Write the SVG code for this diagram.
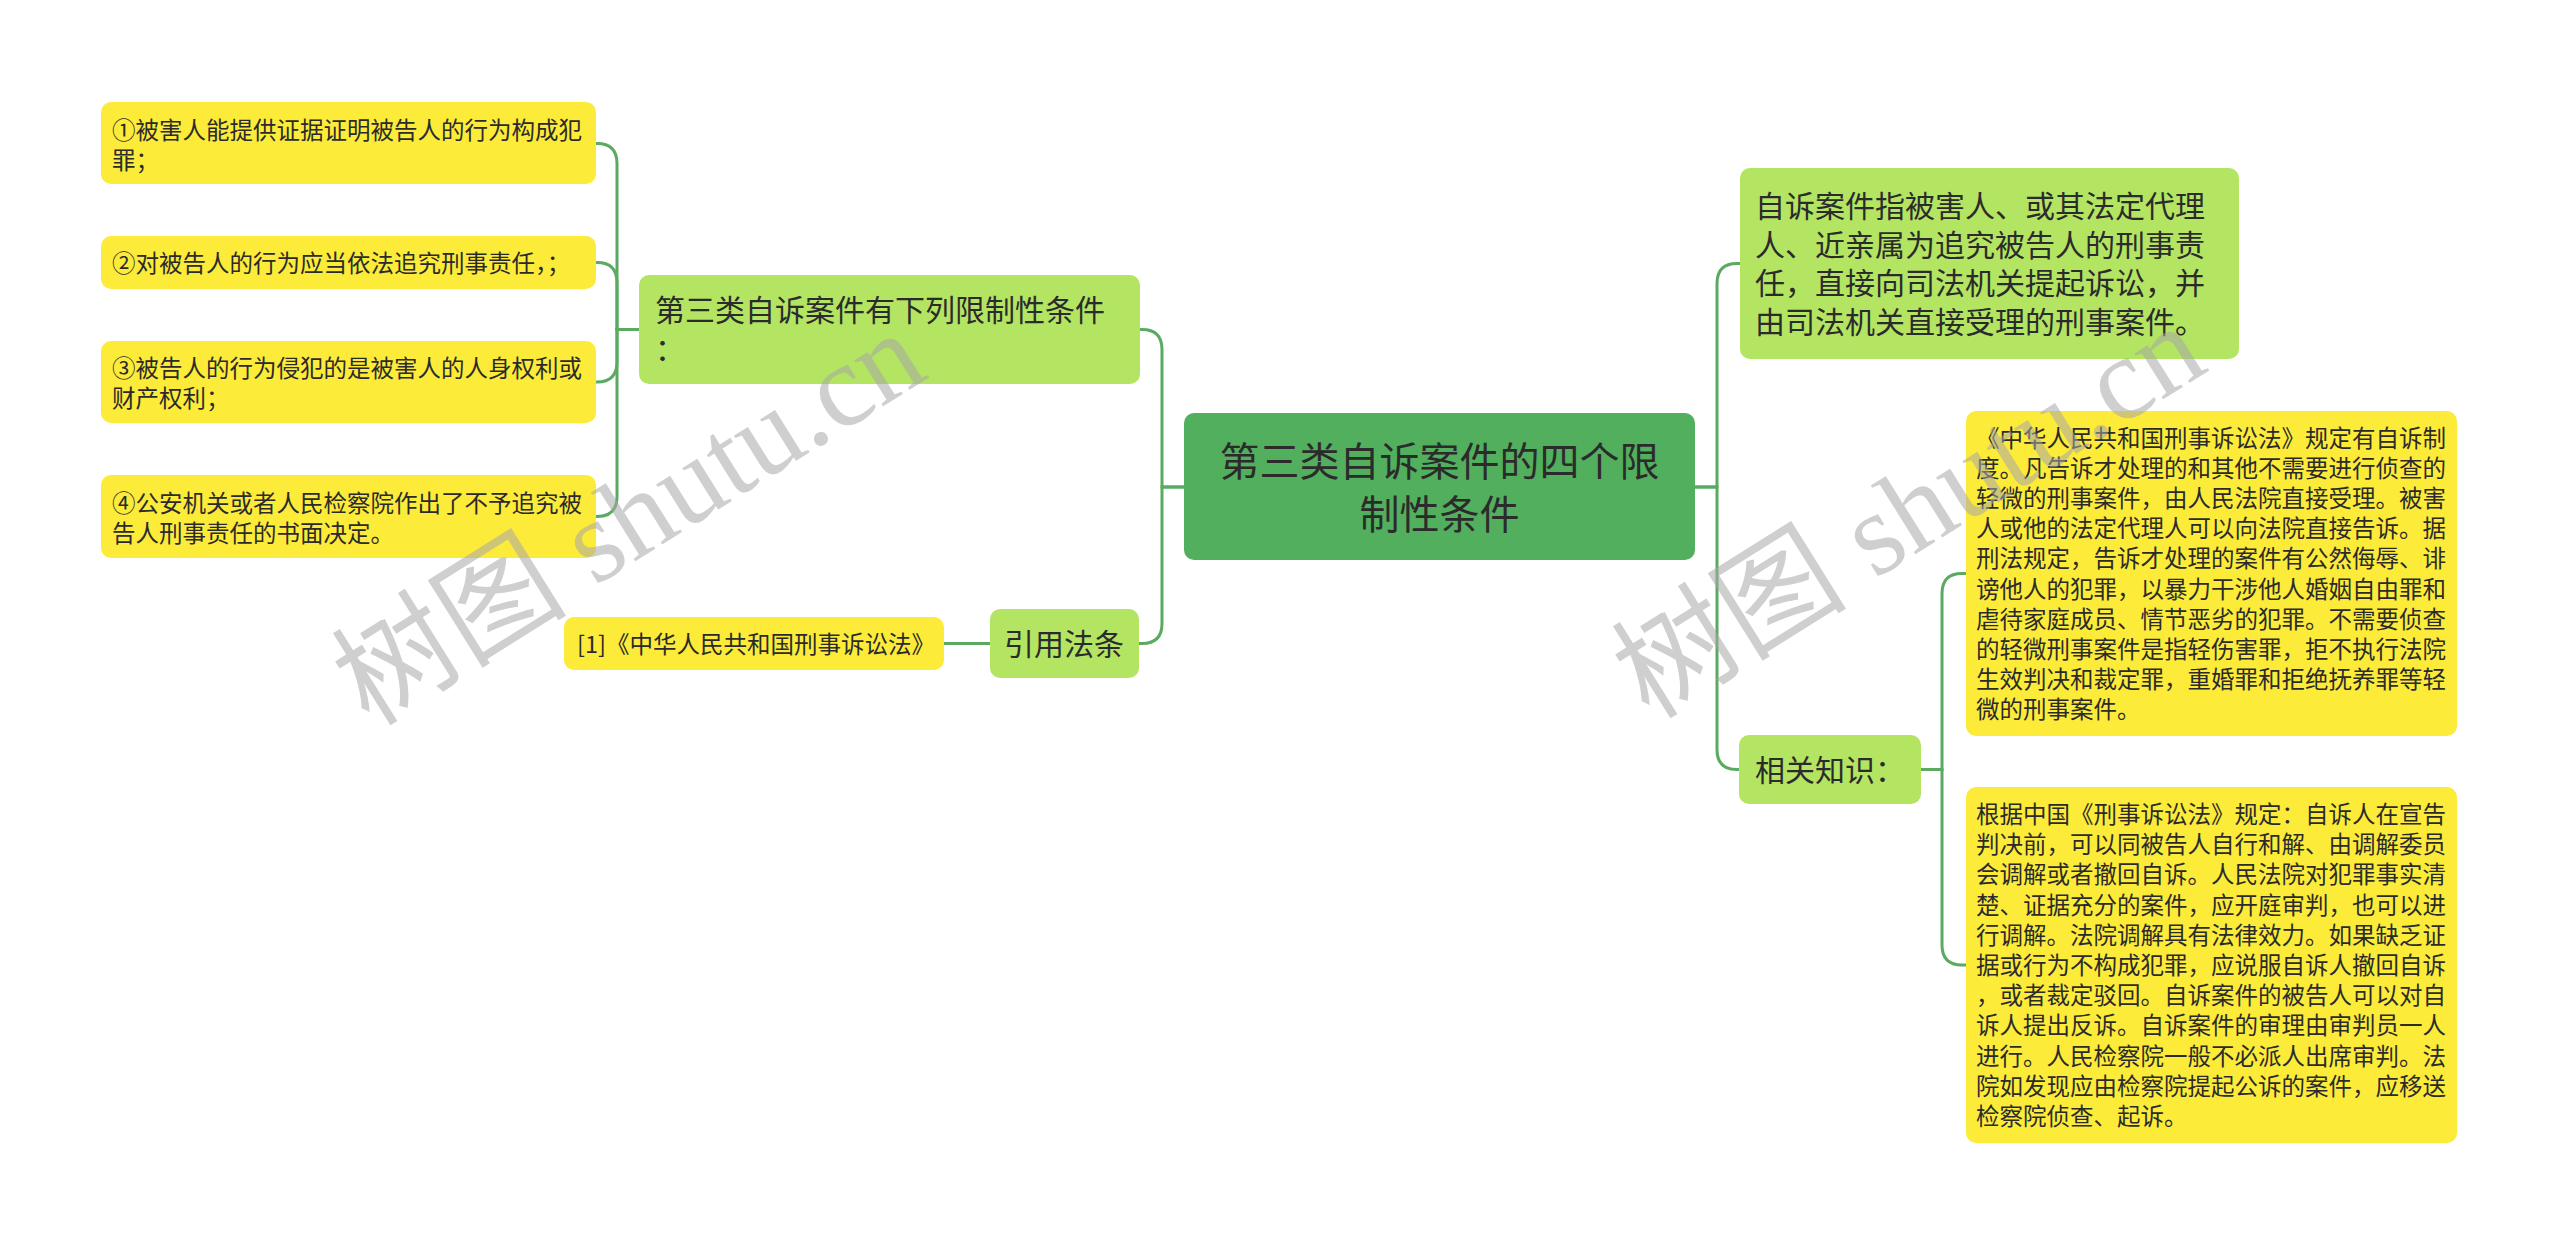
<svg xmlns="http://www.w3.org/2000/svg" width="2560" height="1245" viewBox="0 0 2560 1245">
<style>
.t{font-family:"Noto Sans CJK SC","Microsoft YaHei",sans-serif;fill:#2b2b2b}
.s{font-size:23.5px}
.m{font-size:30px}
.l{font-size:40px}
.y{fill:#fdeb3a}
.g{fill:#b3e462}
.c{fill:#52af5d}
.e{fill:none;stroke:#5aaa62;stroke-width:3;stroke-linecap:round}
.wm{font-family:"Liberation Serif","Noto Sans CJK SC",serif;font-size:118px;fill:#a8a8a8;opacity:0.55}
</style>
<rect width="2560" height="1245" fill="#ffffff"/>
<g id="connectors">
<path class="e" d="M1184,487 H1162 V349.5 Q1162,329.5 1142,329.5 H1140"/>
<path class="e" d="M1184,487 H1162 V623.5 Q1162,643.5 1142,643.5 H1139"/>
<path class="e" d="M639,329.5 H617 V163.5 Q617,143.5 597,143.5 H596"/>
<path class="e" d="M639,329.5 H617 V282.5 Q617,262.5 597,262.5 H596"/>
<path class="e" d="M639,329.5 H617 V362 Q617,382 597,382 H596"/>
<path class="e" d="M639,329.5 H617 V496.5 Q617,516.5 597,516.5 H596"/>
<path class="e" d="M990,643.5 H944"/>
<path class="e" d="M1695,487 H1717 V283.5 Q1717,263.5 1737,263.5 H1740"/>
<path class="e" d="M1695,487 H1717 V749.5 Q1717,769.5 1737,769.5 H1739"/>
<path class="e" d="M1921,769.5 H1942 V593.5 Q1942,573.5 1962,573.5 H1966"/>
<path class="e" d="M1921,769.5 H1942 V945 Q1942,965 1962,965 H1966"/>
</g>
<g id="root">
<rect class="c" x="1184" y="413" width="511" height="147" rx="10"/>
<text class="t l" x="1439.5" text-anchor="middle"><tspan x="1439.5" y="475.5">第三类自诉案件的四个限</tspan><tspan x="1439.5" y="528.5">制性条件</tspan></text>
</g>
<g id="n-conditions">
<rect class="g" x="639" y="275" width="501" height="109" rx="10"/>
<text class="t m"><tspan x="655" y="321">第三类自诉案件有下列限制性条件</tspan><tspan x="655" y="360">：</tspan></text>
</g>
<g id="n-c1">
<rect class="y" x="101" y="102" width="495" height="82" rx="10"/>
<text class="t s"><tspan x="112" y="138.5">①被害人能提供证据证明被告人的行为构成犯</tspan><tspan x="112" y="168.5">罪；</tspan></text>
</g>
<g id="n-c2">
<rect class="y" x="101" y="236" width="495" height="53" rx="10"/>
<text class="t s"><tspan x="112" y="271.5">②对被告人的行为应当依法追究刑事责任，；</tspan></text>
</g>
<g id="n-c3">
<rect class="y" x="101" y="341" width="495" height="82" rx="10"/>
<text class="t s"><tspan x="112" y="377">③被告人的行为侵犯的是被害人的人身权利或</tspan><tspan x="112" y="407">财产权利；</tspan></text>
</g>
<g id="n-c4">
<rect class="y" x="101" y="475" width="495" height="83" rx="10"/>
<text class="t s"><tspan x="112" y="511.5">④公安机关或者人民检察院作出了不予追究被</tspan><tspan x="112" y="541.5">告人刑事责任的书面决定。</tspan></text>
</g>
<g id="n-law">
<rect class="g" x="990" y="609" width="149" height="69" rx="10"/>
<text class="t m" x="1004" y="655">引用法条</text>
</g>
<g id="n-law1">
<rect class="y" x="564" y="617" width="380" height="53" rx="10"/>
<text class="t s" x="577" y="652.5">[1]《中华人民共和国刑事诉讼法》</text>
</g>
<g id="n-def">
<rect class="g" x="1740" y="168" width="499" height="191" rx="10"/>
<text class="t m"><tspan x="1755" y="217">自诉案件指被害人、或其法定代理</tspan><tspan x="1755" y="255.7">人、近亲属为追究被告人的刑事责</tspan><tspan x="1755" y="294.4">任，直接向司法机关提起诉讼，并</tspan><tspan x="1755" y="333.1">由司法机关直接受理的刑事案件。</tspan></text>
</g>
<g id="n-related">
<rect class="g" x="1739" y="735" width="182" height="69" rx="10"/>
<text class="t m" x="1755" y="781">相关知识：</text>
</g>
<g id="n-r1">
<rect class="y" x="1966" y="411" width="491" height="325" rx="10"/>
<text class="t s"><tspan x="1976" y="446.6">《中华人民共和国刑事诉讼法》规定有自诉制</tspan><tspan x="1976" y="476.8">度。凡告诉才处理的和其他不需要进行侦查的</tspan><tspan x="1976" y="507">轻微的刑事案件，由人民法院直接受理。被害</tspan><tspan x="1976" y="537.2">人或他的法定代理人可以向法院直接告诉。据</tspan><tspan x="1976" y="567.4">刑法规定，告诉才处理的案件有公然侮辱、诽</tspan><tspan x="1976" y="597.6">谤他人的犯罪，以暴力干涉他人婚姻自由罪和</tspan><tspan x="1976" y="627.8">虐待家庭成员、情节恶劣的犯罪。不需要侦查</tspan><tspan x="1976" y="658">的轻微刑事案件是指轻伤害罪，拒不执行法院</tspan><tspan x="1976" y="688.2">生效判决和裁定罪，重婚罪和拒绝抚养罪等轻</tspan><tspan x="1976" y="718.4">微的刑事案件。</tspan></text>
</g>
<g id="n-r2">
<rect class="y" x="1966" y="787" width="491" height="356" rx="10"/>
<text class="t s"><tspan x="1976" y="823">根据中国《刑事诉讼法》规定：自诉人在宣告</tspan><tspan x="1976" y="853.2">判决前，可以同被告人自行和解、由调解委员</tspan><tspan x="1976" y="883.4">会调解或者撤回自诉。人民法院对犯罪事实清</tspan><tspan x="1976" y="913.6">楚、证据充分的案件，应开庭审判，也可以进</tspan><tspan x="1976" y="943.8">行调解。法院调解具有法律效力。如果缺乏证</tspan><tspan x="1976" y="974">据或行为不构成犯罪，应说服自诉人撤回自诉</tspan><tspan x="1976" y="1004.2">，或者裁定驳回。自诉案件的被告人可以对自</tspan><tspan x="1976" y="1034.4">诉人提出反诉。自诉案件的审理由审判员一人</tspan><tspan x="1976" y="1064.6">进行。人民检察院一般不必派人出席审判。法</tspan><tspan x="1976" y="1094.8">院如发现应由检察院提起公诉的案件，应移送</tspan><tspan x="1976" y="1125">检察院侦查、起诉。</tspan></text>
</g>
<g id="watermarks">
<text class="wm" text-anchor="middle" transform="translate(650,552) rotate(-32)">树图 shutu.cn</text>
<text class="wm" text-anchor="middle" transform="translate(1930,545) rotate(-32)">树图 shutu.cn</text>
</g>
</svg>
